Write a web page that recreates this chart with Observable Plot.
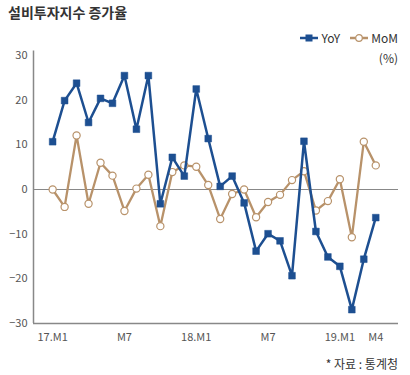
<!DOCTYPE html>
<html><head><meta charset="utf-8">
<script src="https://cdn.jsdelivr.net/npm/d3@7"></script>
<script src="https://cdn.jsdelivr.net/npm/@observablehq/plot@0.6"></script>
<style>
body{margin:0;background:#fff;font-family:"Noto Sans CJK KR","Noto Sans",sans-serif;}
#wrap{position:relative;width:410px;height:375px;overflow:hidden;}
.abs{position:absolute;white-space:nowrap;}
#title{left:8px;top:2px;font-size:14px;font-weight:700;color:#333;}
#legend{right:12px;top:29px;font-size:12px;color:#333;display:flex;align-items:center;gap:6px;}
#unit{right:12px;top:49px;font-size:12px;color:#333;}
#caption{right:12px;top:355px;font-size:12px;color:#333;}
#chart{left:0;top:0;}
</style></head>
<body><div id="wrap">
<div id="chart" class="abs"></div>
<div id="title" class="abs">설비투자지수 증가율</div>
<div id="legend" class="abs"></div>
<div id="unit" class="abs">(%)</div>
<div id="caption" class="abs">* 자료 : 통계청</div>
</div>
<script>
const months = ["17.M1","17.M2","17.M3","17.M4","17.M5","17.M6","17.M7","17.M8","17.M9","17.M10","17.M11","17.M12",
"18.M1","18.M2","18.M3","18.M4","18.M5","18.M6","18.M7","18.M8","18.M9","18.M10","18.M11","18.M12",
"19.M1","19.M2","19.M3","19.M4"];
const yoy = [10.7,19.9,23.8,15.0,20.4,19.3,25.5,13.5,25.5,-3.2,7.2,3.0,22.5,11.4,0.7,3.0,-3.0,-13.8,-9.9,-11.5,-19.3,10.8,-9.4,-15.1,-17.2,-26.9,-15.6,-6.3];
const mom = [0.0,-3.9,12.1,-3.2,6.0,3.1,-4.8,0.2,3.3,-8.2,3.9,5.4,5.1,1.0,-6.6,-1.0,0.0,-6.2,-2.8,-1.2,2.1,4.1,-4.7,-2.6,2.3,-10.7,10.7,5.4];
const tickIdx = [0,6,12,18,24,27];
const tickLabels = ["17.M1","M7","18.M1","M7","19.M1","M4"];
const yTicks = [30,20,10,0,-10,-20,-30];
const colYoY = "#1d4f91", colMoM = "#b8926a";

const rows = months.map((m,i)=>({i, m, yoy:yoy[i], mom:mom[i]}));

const chart = Plot.plot({
  width:410, height:350,
  marginLeft:33, marginRight:12, marginTop:55, marginBottom:27,
  style:{fontFamily:"'Noto Sans CJK KR','Noto Sans',sans-serif", fontSize:"11px", color:"#555", background:"transparent"},
  x:{type:"linear", domain:[-1.6,28.9], axis:null, label:null},
  y:{domain:[-30,30], axis:null, label:null},
  marks:[
    Plot.ruleY([0], {stroke:"#888", strokeWidth:1.2}),
    Plot.ruleY([-30], {stroke:"#888", strokeWidth:1.5}),
    Plot.ruleX([-1.6], {y1:-30, y2:31, stroke:"#888", strokeWidth:1.5}),
    Plot.axisY(yTicks, {tickSize:0, tickPadding:6, fill:"#555", fontSize:11, anchor:"left", label:null}),
    Plot.axisX(tickIdx, {tickSize:0, tickPadding:10, fill:"#555", fontSize:11, anchor:"bottom", label:null, tickFormat:(d)=>tickLabels[tickIdx.indexOf(d)]}),
    Plot.line(rows, {x:"i", y:"mom", stroke:colMoM, strokeWidth:2.3}),
    Plot.dot(rows, {x:"i", y:"mom", r:3.6, fill:"white", stroke:colMoM, strokeWidth:1.2}),
    Plot.line(rows, {x:"i", y:"yoy", stroke:colYoY, strokeWidth:2.5}),
    Plot.dot(rows, {x:"i", y:"yoy", r:3.8, symbol:"square", fill:colYoY, stroke:colYoY, strokeWidth:0.5})
  ]
});
document.getElementById("chart").appendChild(chart);

// legend
const lg = document.getElementById("legend");
function item(name, col, sq){
  const s = `<svg width="18" height="10"><line x1="0" y1="5" x2="18" y2="5" stroke="${col}" stroke-width="2.5"/>` +
    (sq ? `<rect x="5.5" y="1.5" width="7" height="7" fill="${col}"/>` : `<circle cx="9" cy="5" r="3.3" fill="white" stroke="${col}" stroke-width="1.2"/>`) + `</svg>`;
  const d = document.createElement("span");
  d.style.display="flex"; d.style.alignItems="center"; d.style.gap="3px"; d.style.marginLeft = sq ? "0" : "4px";
  d.innerHTML = s + `<span>${name}</span>`;
  lg.appendChild(d);
}
item("YoY", colYoY, true);
item("MoM", colMoM, false);
</script>
</body></html>
